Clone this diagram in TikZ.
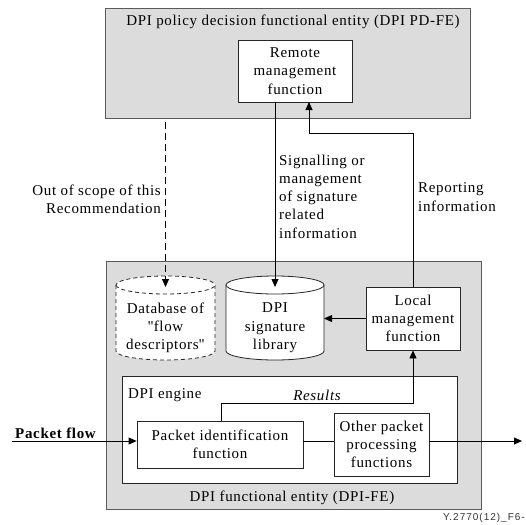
\documentclass[tikz,border=0pt]{standalone}
\usepackage{fontspec}
\setmainfont[LetterSpace=4.5]{Liberation Serif}
\newfontfamily\sansf[LetterSpace=10]{Liberation Sans}
\usetikzlibrary{arrows.meta}
\definecolor{boxgray}{RGB}{220,220,220}
\definecolor{edgegray}{RGB}{90,90,90}
\tikzset{
  base/.style={font=\fontsize{15}{18.3}\selectfont, inner sep=0pt},
  graybox/.style={base, draw=edgegray, line width=0.9pt, fill=boxgray},
  whitebox/.style={base, draw=black!85, line width=0.8pt, fill=white, align=center},
  lbl/.style={base, align=center},
  conn/.style={draw=black, line width=0.8pt},
  arr/.style={conn, -{Triangle[length=8pt,width=7pt]}},
  cyl/.style={draw=black!85, line width=0.8pt, fill=white},
}
\begin{document}
\begin{tikzpicture}[x=1pt,y=1pt]
\useasboundingbox (0,0) rectangle (526,-524);
% outer boxes
\node[graybox, minimum width=365, minimum height=110] (top) at (287.5,-63) {};
\node[lbl] (toplbl) at (293,-22) {DPI policy decision functional entity (DPI PD-FE)};
\node[whitebox, minimum width=114, minimum height=62] (remote) at (295,-71) {Remote\\management\\function};
\node[graybox, minimum width=375, minimum height=248] (fe) at (293.5,-385) {};
\node[lbl] (felbl) at (292,-498) {DPI functional entity (DPI-FE)};
\node[whitebox, minimum width=335, minimum height=107] (engine) at (289.5,-429.5) {};
\node[lbl, anchor=west] (englbl) at (128,-395) {DPI engine};
\node[lbl] (results) at (317,-395) {\itshape Results};
\node[whitebox, minimum width=166, minimum height=47] (pif) at (220,-444.5) {Packet identification\\function};
\node[whitebox, minimum width=95, minimum height=63] (opp) at (381.5,-444.5) {Other packet\\processing\\functions};
\node[whitebox, minimum width=94, minimum height=63] (local) at (413,-318.5) {Local\\management\\function};
% cylinders
\draw[cyl, dashed, dash pattern=on 4pt off 3pt] (116,-285) -- (116,-351) arc[start angle=180,end angle=360,x radius=49.5,y radius=9] -- (215,-285) arc[start angle=0,end angle=180,x radius=49.5,y radius=9] -- cycle;
\draw[cyl, dashed, dash pattern=on 4pt off 3pt] (116,-285) arc[start angle=180,end angle=360,x radius=49.5,y radius=9];
\draw[cyl] (226,-285) -- (226,-351) arc[start angle=180,end angle=360,x radius=49,y radius=9] -- (324,-285) arc[start angle=0,end angle=180,x radius=49,y radius=9] -- cycle;
\draw[cyl] (226,-285) arc[start angle=180,end angle=360,x radius=49,y radius=9];
\node[lbl] (db) at (165.5,-328) {Database of\\\textquotedbl flow\\descriptors\textquotedbl};
\node[lbl] (lib) at (275,-328) {DPI\\signature\\library};
\coordinate (dbtop) at (165.5,-287);
\coordinate (libtop) at (275,-287);
\coordinate (libE) at (324,-318.5);
\coordinate (dstart) at (165.5,-122);
% labels
\node[lbl, align=right, anchor=east] (oos) at (161,-199) {Out of scope of this\\Recommendation};
\node[lbl, align=left, anchor=west] (sig) at (279,-196.5) {Signalling or\\management\\of signature\\related\\information};
\node[lbl, align=left, anchor=west] (rep) at (418,-197) {Reporting\\information};
\node[lbl, anchor=west] (pflbl) at (15,-433) {\bfseries Packet flow};
\node[base, anchor=east, font=\sansf\fontsize{10}{12}\selectfont, text=black!80] (ref) at (525,-518) {Y.2770(12)\_F6-};
% connectors
\draw[arr, dashed, dash pattern=on 7pt off 4pt] (dstart) -- (dbtop);
\draw[arr] (remote.south -| libtop) -- (libtop);
\draw[arr] (local.north) |- (309,-133) -- (309,-102);
\draw[arr] (local.west) -- (libE);
\draw[arr] (221,-421) |- (413,-403) -- (local.south);
\coordinate (pf) at (12,-441);
\coordinate (out) at (522,-441);
\draw[arr] (pf) -- (pf -| pif.west);
\draw[conn] (pif.east |- pf) -- (opp.west |- pf);
\draw[arr] (opp.east |- pf) -- (out);
\end{tikzpicture}
\end{document}
